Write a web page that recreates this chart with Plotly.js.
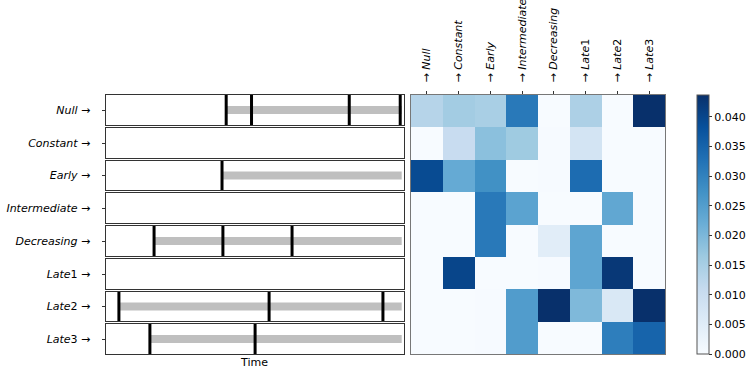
<!DOCTYPE html>
<html>
<head>
<meta charset="utf-8">
<script src="https://cdn.plot.ly/plotly-3.0.1.min.js"></script>
<style>body{margin:0;background:#fff}</style>
</head>
<body>
<div id="chart" style="width:747px;height:370px"></div>
<script>
// regimes, in row/column order
var states = ["Null", "Constant", "Early", "Intermediate", "Decreasing", "Late1", "Late2", "Late3"];
var stateLabels = ["<i>Null</i>", "<i>Constant</i>", "<i>Early</i>", "<i>Intermediate</i>",
                   "<i>Decreasing</i>", "<i>Late</i>1", "<i>Late</i>2", "<i>Late</i>3"];

// change points on the time axis (0..100) for each regime
var changePoints = [
    [40.5, 49.0, 81.8, 98.9],
    [],
    [39.1],
    [],
    [16.3, 39.4, 62.6],
    [],
    [4.5, 54.9, 93.1],
    [14.9, 50.2]
];
var endTime = 99.4;

// transition matrix, rows = from, cols = to
var heatNull         = [0.0131, 0.0157, 0.0149, 0.0315, 0.0000, 0.0144, 0.0000, 0.0437];
var heatConstant     = [0.0000, 0.0105, 0.0184, 0.0162, 0.0003, 0.0079, 0.0000, 0.0000];
var heatEarly        = [0.0393, 0.0227, 0.0275, 0.0000, 0.0002, 0.0336, 0.0000, 0.0000];
var heatIntermediate = [0.0000, 0.0000, 0.0315, 0.0240, 0.0000, 0.0000, 0.0232, 0.0000];
var heatDecreasing   = [0.0000, 0.0000, 0.0315, 0.0000, 0.0048, 0.0236, 0.0000, 0.0000];
var heatLate1        = [0.0000, 0.0402, 0.0000, 0.0000, 0.0002, 0.0236, 0.0424, 0.0000];
var heatLate2        = [0.0000, 0.0000, 0.0002, 0.0253, 0.0437, 0.0197, 0.0066, 0.0437];
var heatLate3        = [0.0000, 0.0000, 0.0002, 0.0253, 0.0000, 0.0000, 0.0306, 0.0350];
var zMax = 0.0437;

var blues = [[0, "#f7fbff"], [0.125, "#deebf7"], [0.25, "#c6dbef"], [0.375, "#9ecae1"],
             [0.5, "#6baed6"], [0.625, "#4292c6"], [0.75, "#2171b5"], [0.875, "#08519c"], [1, "#08306b"]];

var W = 747, H = 370;
var font = {family: "DejaVu Sans", size: 11, color: "#000"};
var data = [];
var layout = {
    width: W, height: H,
    margin: {l: 0, r: 0, t: 0, b: 0},
    paper_bgcolor: "#fff", plot_bgcolor: "#fff",
    showlegend: false,
    font: font
};

// left column of timelines
var panelTop = 95, panelGap = 3;
var panelH = (259 - 7 * panelGap) / 8;
var leftX = [105.5 / W, 403.5 / W];

for (let i = 0; i < states.length; i++) {
    let n = i + 1;
    let xa = "x" + n, ya = "y" + n;
    let top = Math.round(panelTop + i * (panelH + panelGap));
    let bottom = Math.round(panelTop + i * (panelH + panelGap) + panelH);
    let cps = changePoints[i];

    if (cps.length > 0) {
        data.push({
            x: [cps[0], endTime], y: [0.5, 0.5],
            xaxis: xa, yaxis: ya, mode: "lines",
            line: {color: "#bfbfbf", width: 8}, hoverinfo: "skip"
        });
        let vx = [], vy = [];
        cps.forEach(function (t) { vx.push(t, t, null); vy.push(0, 1, null); });
        data.push({
            x: vx, y: vy, xaxis: xa, yaxis: ya, mode: "lines",
            line: {color: "#000", width: 3}, hoverinfo: "skip"
        });
    } else {
        data.push({x: [0], y: [0.5], xaxis: xa, yaxis: ya, mode: "markers",
                   marker: {opacity: 0}, hoverinfo: "skip"});
    }

    layout["xaxis" + n] = {
        domain: leftX, anchor: ya, range: [0, 100],
        showgrid: false, zeroline: false, showticklabels: false, ticks: "",
        showline: true, mirror: true, linecolor: "#333", linewidth: 1,
        title: i === states.length - 1 ? {text: "Time", font: font, standoff: 4} : undefined
    };
    layout["yaxis" + n] = {
        domain: [(H - bottom) / H, (H - top) / H], anchor: xa, range: [0, 1],
        showgrid: false, zeroline: false,
        tickvals: [0.5], ticktext: [stateLabels[i] + " →"],
        ticks: "outside", ticklen: 3, tickcolor: "#333", ticklabelstandoff: 9,
        showline: true, mirror: true, linecolor: "#333", linewidth: 1,
        tickfont: font
    };
}

// heatmap on the right
data.push({
    type: "heatmap",
    z: [heatNull, heatConstant, heatEarly, heatIntermediate, heatDecreasing, heatLate1, heatLate2, heatLate3],
    x: states, y: states,
    xaxis: "x9", yaxis: "y9",
    colorscale: blues, zmin: 0, zmax: zMax,
    colorbar: {
        x: 697 / W, xanchor: "left", thickness: 12,
        y: (H - 354) / H, yanchor: "bottom", len: 259 / H, lenmode: "fraction",
        outlinecolor: "#555", outlinewidth: 1,
        tickformat: ".3f", tick0: 0, dtick: 0.005,
        ticks: "outside", ticklen: 3, tickcolor: "#333",
        tickfont: font, xpad: 0, ypad: 0
    }
});

layout.xaxis9 = {
    domain: [411 / W, 665 / W], anchor: "y9", side: "top",
    tickvals: states, ticktext: stateLabels.map(function (s) { return "→ " + s; }),
    tickangle: -90, ticks: "outside", ticklen: 3, tickcolor: "#333", tickfont: font,
    ticklabelstandoff: 6,
    showgrid: false, zeroline: false,
    showline: true, mirror: true, linecolor: "#777", linewidth: 1.3
};
layout.yaxis9 = {
    domain: [(H - 354) / H, (H - 95) / H], anchor: "x9", autorange: "reversed",
    showticklabels: false, ticks: "", showgrid: false, zeroline: false,
    showline: true, mirror: true, linecolor: "#777", linewidth: 1.3
};

Plotly.newPlot("chart", data, layout, {displayModeBar: false, staticPlot: true});
</script>
</body>
</html>
